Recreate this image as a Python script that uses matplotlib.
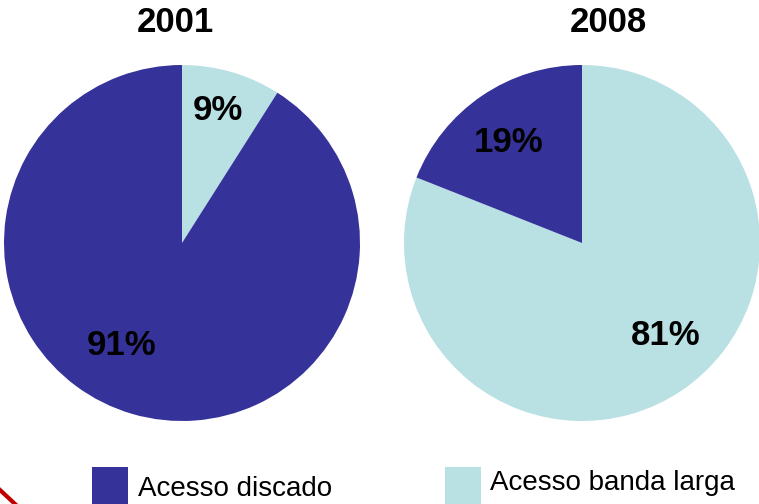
import matplotlib
matplotlib.use("Agg")
import matplotlib.pyplot as plt
from matplotlib.patches import Rectangle
from matplotlib.lines import Line2D
import numpy as np

plt.rcParams['font.family'] = ['Liberation Sans', 'DejaVu Sans']

years = ["2001", "2008"]
categories = ["Acesso discado", "Acesso banda larga"]
# values ordered: banda larga, discado (drawn clockwise from 12 o'clock)
banda_larga = [9, 81]
discado = [91, 19]
colors = {"Acesso discado": "#35339A", "Acesso banda larga": "#B9E0E3"}

W, H = 759, 504
fig = plt.figure(figsize=(W / 100, H / 100), dpi=100)

centers = [(182, 243), (582, 243)]
R = 178
title_x = [175, 608]
# label placement (radius fraction, angle deg) for [banda larga, discado]
label_pos = [[(0.77, 75), (0.67, -120.6)], [(0.70, -47.9), (0.70, 126)]]

for i, yr in enumerate(years):
    cx, cy = centers[i]
    ax = fig.add_axes([(cx - R) / W, (H - cy - R) / H, 2 * R / W, 2 * R / H])
    vals = [banda_larga[i], discado[i]]
    ax.pie(vals, colors=[colors["Acesso banda larga"], colors["Acesso discado"]],
           startangle=90, counterclock=False, radius=1,
           wedgeprops=dict(linewidth=0))
    ax.set_xlim(-1, 1)
    ax.set_ylim(-1, 1)
    ax.set_aspect('auto')
    ax.axis('off')
    for v, (r, th) in zip(vals, label_pos[i]):
        ax.text(r * np.cos(np.radians(th)), r * np.sin(np.radians(th)), f"{v}%",
                ha='center', va='center', fontsize=25, fontweight='bold', color='black')
    fig.text(title_x[i] / W, 1 - 23 / H, yr, ha='center', va='center',
             fontsize=25, fontweight='bold', color='black')

# legend
leg_sq_x = [92, 445]
leg_txt_x = [138, 490]
leg_txt_y = [489, 483]
for j, cat in enumerate(categories):
    fig.patches.append(Rectangle((leg_sq_x[j] / W, 0), 36 / W, 37 / H,
                                 transform=fig.transFigure, facecolor=colors[cat],
                                 edgecolor='none'))
    fig.text(leg_txt_x[j] / W, 1 - leg_txt_y[j] / H, cat, ha='left', va='center',
             fontsize=20, color='black')

# decorative red stroke at bottom-left
fig.lines.append(Line2D([0, 15 / W], [1 - 490 / H, 0], transform=fig.transFigure,
                        color='#C00000', linewidth=3))

fig.savefig("out.png", dpi=100)
